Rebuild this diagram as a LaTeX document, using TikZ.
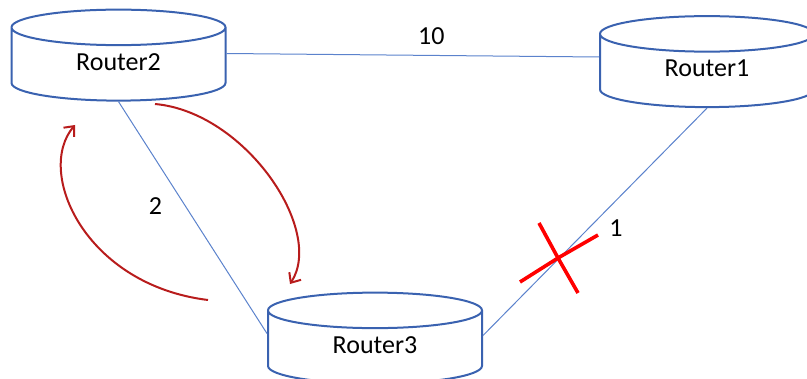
\documentclass[tikz,border=0pt]{standalone}
\usepackage{fontspec}
\setmainfont{Carlito}
\usepackage{tikz}
\usetikzlibrary{shapes.geometric}
\usetikzlibrary{arrows.meta}

\definecolor{routerblue}{HTML}{3A62B0}
\definecolor{linkblue}{HTML}{5B82CC}
\definecolor{loopred}{HTML}{B81C1C}

\tikzset{
    router/.style={draw=routerblue, line width=1pt, fill=white, cylinder,
        shape border rotate=90, shape aspect=0.42, inner sep=0pt,
        minimum width=107pt, minimum height=45.5pt,
        text height=6pt, text depth=0pt,
        font=\fontsize{13}{15}\selectfont},
    link/.style={draw=linkblue, line width=0.5pt},
    cost/.style={font=\fontsize{13}{15}\selectfont},
    loop/.style={draw=loopred, line width=1pt,
        -{Straight Barb[length=4pt,width=7pt]}},
    cut/.style={draw=red, line width=1.8pt}
}

\begin{document}
\begin{tikzpicture}[x=0.5pt, y=-0.5pt]
        \useasboundingbox (0,0) rectangle (807,379);

        \node[router] (router2) at (118.5,64.5) {Router2};
        \node[router] (router1) at (707,71) {Router1};
        \node[router] (router3) at (375,347.5) {Router3};

        % links with their costs
        \draw[link] ([yshift=5.5pt]router2.east) -- node[cost, above=2pt, pos=0.55] {10} ([yshift=7pt]router1.west);
        \draw[link] (router2.south) -- node[cost, left=8pt, pos=0.45] {2} ([yshift=7pt]router3.west);
        \draw[link] (router1.south) -- node[cost, right=7pt, pos=0.53] {1} ([yshift=6pt]router3.east);

        % broken link
        \coordinate (break) at (558,258);
        \draw[cut] (520,282) -- (break) -- (598,235);
        \draw[cut] (539,223) -- (break) -- (578,293);

        % routing loop between Router2 and Router3
        \coordinate (loopa) at (155,104);
        \coordinate (loopb) at (290,284);
        \coordinate (loopc) at (208,300);
        \coordinate (loopd) at (75,125);
        \draw[loop] (loopa) .. controls (245,112) and (325,230) .. (loopb);
        \draw[loop] (loopc) .. controls (85,285) and (35,172) .. (loopd);
    \end{tikzpicture}
\end{document}
